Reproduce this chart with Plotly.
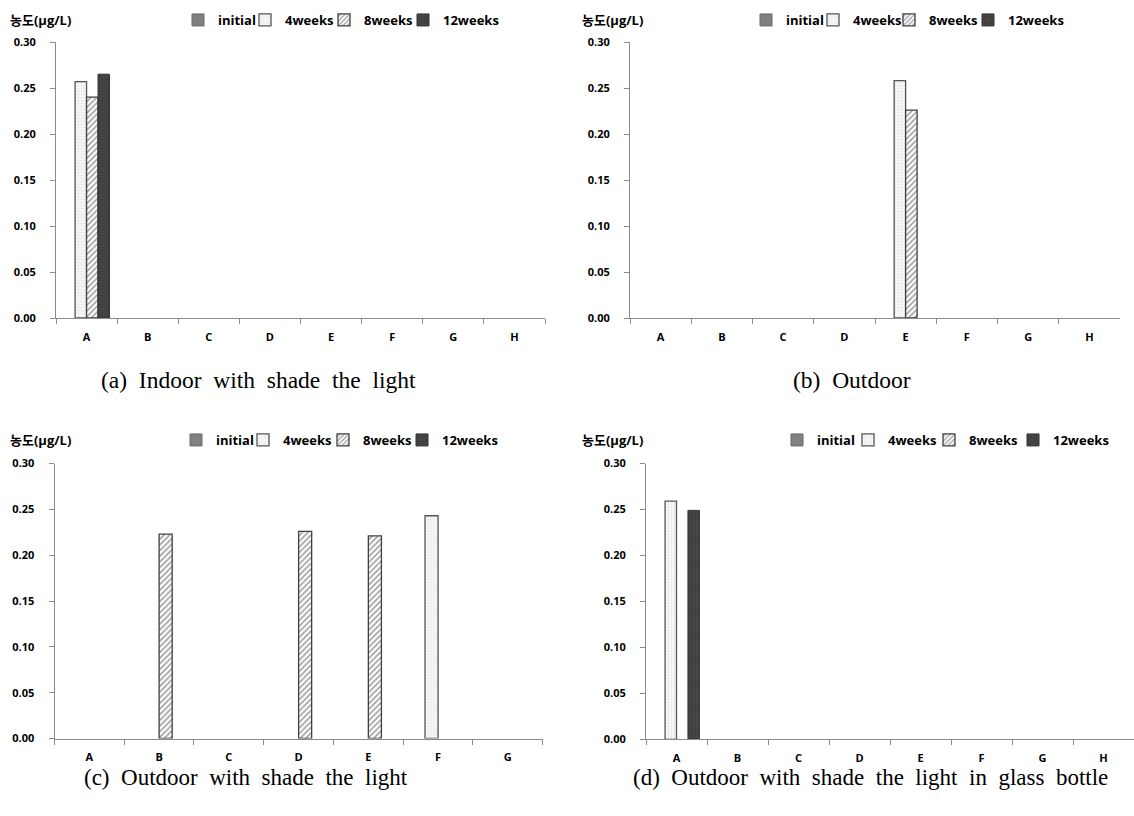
import plotly.graph_objects as go

# ---------------- data ----------------
series = ["initial", "4weeks", "8weeks", "12weeks"]

cats_a = ["A", "B", "C", "D", "E", "F", "G", "H"]
a_initial = [0, 0, 0, 0, 0, 0, 0, 0]
a_4weeks = [0.257, 0, 0, 0, 0, 0, 0, 0]
a_8weeks = [0.240, 0, 0, 0, 0, 0, 0, 0]
a_12weeks = [0.265, 0, 0, 0, 0, 0, 0, 0]

cats_b = ["A", "B", "C", "D", "E", "F", "G", "H"]
b_initial = [0, 0, 0, 0, 0, 0, 0, 0]
b_4weeks = [0, 0, 0, 0, 0.258, 0, 0, 0]
b_8weeks = [0, 0, 0, 0, 0.226, 0, 0, 0]
b_12weeks = [0, 0, 0, 0, 0, 0, 0, 0]

cats_c = ["A", "B", "C", "D", "E", "F", "G"]
c_initial = [0, 0, 0, 0, 0, 0, 0]
c_4weeks = [0, 0, 0, 0, 0, 0.243, 0]
c_8weeks = [0, 0.223, 0, 0.226, 0.221, 0, 0]
c_12weeks = [0, 0, 0, 0, 0, 0, 0]

cats_d = ["A", "B", "C", "D", "E", "F", "G", "H"]
d_initial = [0, 0, 0, 0, 0, 0, 0, 0]
d_4weeks = [0.259, 0, 0, 0, 0, 0, 0, 0]
d_8weeks = [0, 0, 0, 0, 0, 0, 0, 0]
d_12weeks = [0.249, 0, 0, 0, 0, 0, 0, 0]

y_title = "농도(μg/L)"
caption_words = [
    ["(a)", "Indoor", "with", "shade", "the", "light"],
    ["(b)", "Outdoor"],
    ["(c)", "Outdoor", "with", "shade", "the", "light"],
    ["(d)", "Outdoor", "with", "shade", "the", "light", "in", "glass", "bottle"],
]

# ---------------- styles ----------------
FONT = "Open Sans, Noto Sans CJK KR, sans-serif"
SERIF = "Liberation Serif, Times New Roman, serif"
styles = {
    "initial": dict(color="#808080",
                    line=dict(color="#6a6a6a", width=1)),
    "4weeks": dict(color="#f4f4f4",
                   pattern=dict(shape=".", fgcolor="#c8c8c8", bgcolor="#f7f7f7",
                                size=3, solidity=0.25),
                   line=dict(color="#555555", width=1.3)),
    "8weeks": dict(color="white",
                   pattern=dict(shape="/", fgcolor="#404040", bgcolor="white",
                                size=4, solidity=0.4),
                   line=dict(color="#404040", width=1.3)),
    "12weeks": dict(color="#404040",
                    pattern=dict(shape=".", fgcolor="#2a2a2a", bgcolor="#484848",
                                 size=3, solidity=0.4),
                    line=dict(color="#333333", width=1)),
}

panels = [
    dict(cats=cats_a, vals=[a_initial, a_4weeks, a_8weeks, a_12weeks],
         xd=[56 / 1134, 545 / 1134], yd=[1 - 318 / 816, 1 - 42 / 816]),
    dict(cats=cats_b, vals=[b_initial, b_4weeks, b_8weeks, b_12weeks],
         xd=[630 / 1134, 1120 / 1134], yd=[1 - 318 / 816, 1 - 42 / 816]),
    dict(cats=cats_c, vals=[c_initial, c_4weeks, c_8weeks, c_12weeks],
         xd=[54.5 / 1134, 542.7 / 1134], yd=[1 - 738.5 / 816, 1 - 463.5 / 816]),
    dict(cats=cats_d, vals=[d_initial, d_4weeks, d_8weeks, d_12weeks],
         xd=[646 / 1134, 1.0], yd=[1 - 739.3 / 816, 1 - 463.5 / 816]),
]

# reference x-position where each legend label's text starts, and legend row y
legend_text_x = [
    [212, 279, 358, 437],
    [780, 847, 923, 1002],
    [210, 277, 357, 436],
    [811, 882, 963, 1047],
]
legend_row_y = [20, 20, 440, 440]
ytitle_pos = [(8, 20), (580, 20), (8, 440), (580, 440)]
caption_pos = [(258, 380), (852, 380), (246, 777), (870, 777)]

fig = go.Figure()
layout = dict(
    width=1134, height=816,
    margin=dict(l=0, r=0, t=0, b=0, autoexpand=False),
    paper_bgcolor="white", plot_bgcolor="white",
    barmode="group", bargap=0.25, bargroupgap=0,
    showlegend=True,
    font=dict(family=FONT, color="black"),
    annotations=[],
)

leg_idx = 0
for i, p in enumerate(panels):
    n = "" if i == 0 else str(i + 1)
    xa, ya = "x" + n, "y" + n
    for k, (s, v) in enumerate(zip(series, p["vals"])):
        leg_idx += 1
        lg = "legend" if leg_idx == 1 else "legend" + str(leg_idx)
        fig.add_trace(go.Bar(
            x=p["cats"], y=[val if val else None for val in v], name=s,
            xaxis=xa, yaxis=ya, legend=lg, showlegend=True,
            marker=styles[s], hoverinfo="x+y+name",
        ))
        layout[lg] = dict(
            x=(legend_text_x[i][k] + 6 - 40) / 1134, y=1 - legend_row_y[i] / 816,
            xanchor="left", yanchor="middle",
            orientation="h", bgcolor="rgba(0,0,0,0)", borderwidth=0,
            font=dict(family=FONT, size=13, color="black", weight="bold"),
            itemwidth=30, visible=True,
        )
    layout["xaxis" + n] = dict(
        domain=p["xd"], anchor=ya, type="category",
        showline=True, linecolor="#8c8c8c", linewidth=1,
        ticks="outside", tickson="boundaries", ticklen=5, tickcolor="#8c8c8c",
        showgrid=False, zeroline=False, ticklabelstandoff=9 if i < 2 else 8,
        tickfont=dict(family=FONT, size=11, color="black", weight="bold"),
        fixedrange=True,
    )
    layout["yaxis" + n] = dict(
        domain=p["yd"], anchor=xa, range=[0, 0.3], dtick=0.05, tick0=0,
        tickformat=".2f",
        showline=True, linecolor="#8c8c8c", linewidth=1,
        ticks="outside", ticklen=5, tickcolor="#8c8c8c",
        showgrid=False, zeroline=False, ticklabelstandoff=12,
        tickfont=dict(family=FONT, size=11, color="black", weight="bold"),
        fixedrange=True,
    )
    tx, ty = ytitle_pos[i]
    layout["annotations"].append(dict(
        text=y_title, x=tx / 1134, y=1 - ty / 816, xref="paper", yref="paper",
        xanchor="left", yanchor="middle", showarrow=False,
        font=dict(family=FONT, size=13, color="black", weight="bold"),
    ))
    cx, cy = caption_pos[i]
    layout["annotations"].append(dict(
        text="\u00a0\u00a0".join(caption_words[i]),
        x=cx / 1134, y=1 - cy / 816, xref="paper", yref="paper",
        xanchor="center", yanchor="middle", showarrow=False,
        font=dict(family=SERIF, size=23 if i >= 2 else 23.5, color="black"),
    ))

fig.update_layout(**layout)
fig.write_html("out.html")
